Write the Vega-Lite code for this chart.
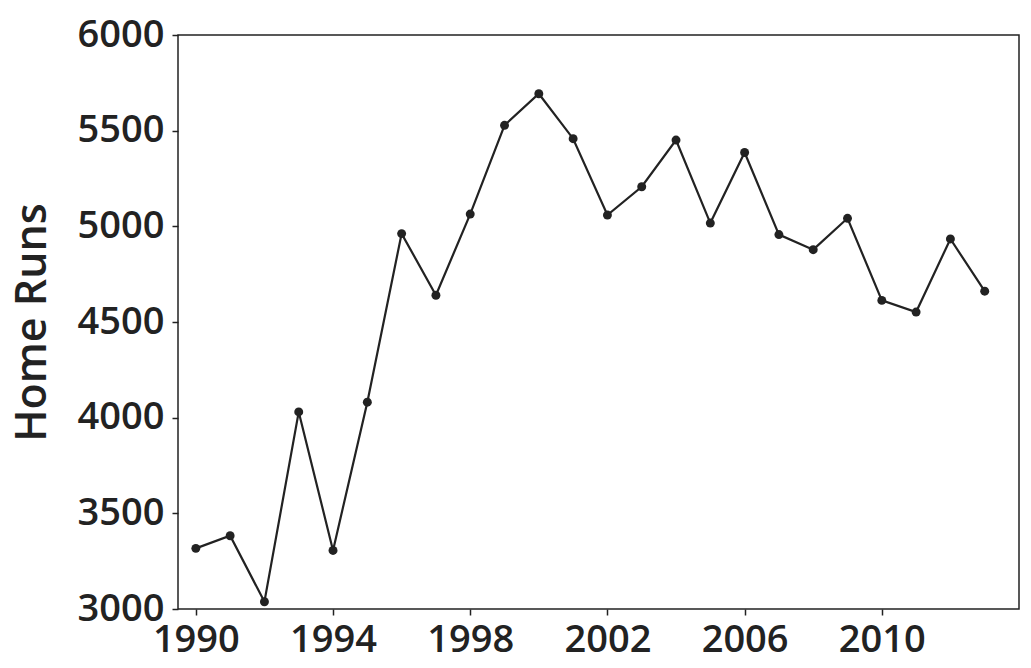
{
  "$schema": "https://vega.github.io/schema/vega-lite/v6.json",
  "width": 841,
  "height": 574,
  "autosize": {"type": "none"},
  "padding": {"left": 178, "top": 35, "right": 12, "bottom": 59},
  "background": "white",
  "config": {
    "view": {"stroke": "#222", "strokeWidth": 1.5},
    "font": "Open Sans"
  },
  "data": {
    "values": [
      {"year": 1990, "hr": 3317}, {"year": 1991, "hr": 3383}, {"year": 1992, "hr": 3038},
      {"year": 1993, "hr": 4030}, {"year": 1994, "hr": 3306}, {"year": 1995, "hr": 4081},
      {"year": 1996, "hr": 4962}, {"year": 1997, "hr": 4640}, {"year": 1998, "hr": 5064},
      {"year": 1999, "hr": 5528}, {"year": 2000, "hr": 5693}, {"year": 2001, "hr": 5458},
      {"year": 2002, "hr": 5059}, {"year": 2003, "hr": 5207}, {"year": 2004, "hr": 5451},
      {"year": 2005, "hr": 5017}, {"year": 2006, "hr": 5386}, {"year": 2007, "hr": 4957},
      {"year": 2008, "hr": 4878}, {"year": 2009, "hr": 5042}, {"year": 2010, "hr": 4613},
      {"year": 2011, "hr": 4552}, {"year": 2012, "hr": 4934}, {"year": 2013, "hr": 4661}
    ]
  },
  "encoding": {
    "x": {
      "field": "year", "type": "quantitative",
      "scale": {"domain": [1989.48, 2014], "nice": false, "zero": false},
      "axis": {
        "values": [1990, 1994, 1998, 2002, 2006, 2010],
        "format": "d", "title": null, "grid": false,
        "domain": false, "tickColor": "#222", "tickSize": 6, "tickWidth": 1.5,
        "labelFontSize": 38, "labelFontWeight": 600, "labelColor": "#222", "labelPadding": 6,
        "labelFont": "Open Sans", "labelFlush": false
      }
    },
    "y": {
      "field": "hr", "type": "quantitative",
      "scale": {"domain": [3000, 6000], "nice": false, "zero": false},
      "axis": {
        "values": [3000, 3500, 4000, 4500, 5000, 5500, 6000],
        "format": "d",
        "title": "Home Runs", "grid": false,
        "domain": false, "tickColor": "#222", "tickSize": 6, "tickWidth": 1.5,
        "labelFontSize": 38, "labelFontWeight": 600, "labelColor": "#222", "labelPadding": 8,
        "labelFont": "Open Sans", "labelFlush": false,
        "titleFontSize": 43, "titleFontWeight": 600, "titleColor": "#222",
        "titleFont": "Open Sans", "titlePadding": 23
      }
    }
  },
  "layer": [
    {"mark": {"type": "line", "color": "#222", "strokeWidth": 2.2}},
    {"mark": {"type": "point", "filled": true, "color": "#222", "opacity": 1, "size": 80}}
  ]
}
